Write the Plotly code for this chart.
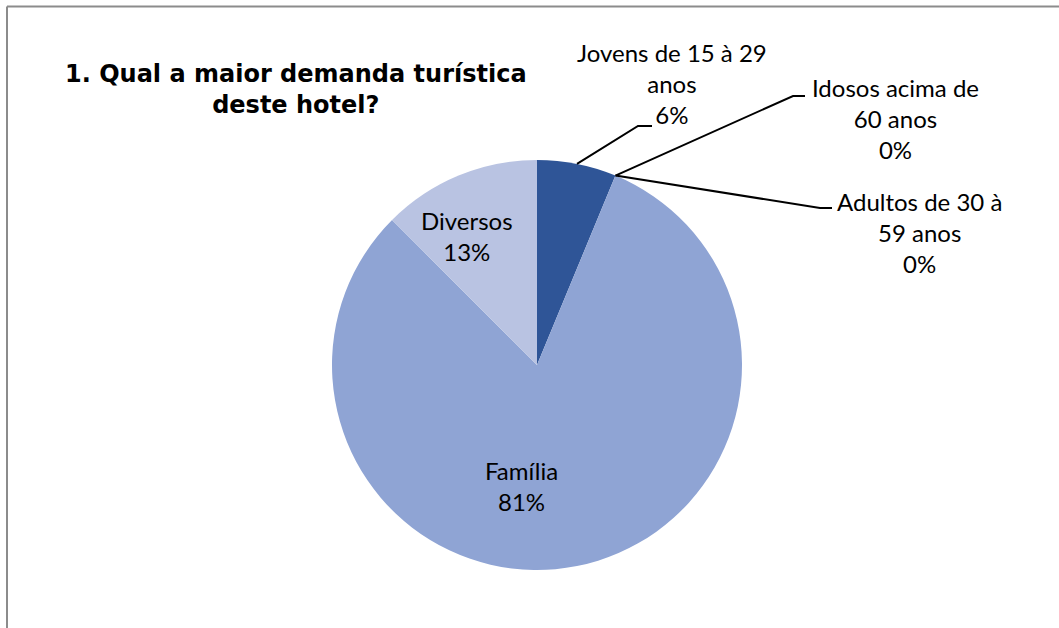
import math
import plotly.graph_objects as go

# ---- data ----
labels = ["Jovens de 15 à 29 anos", "Idosos acima de 60 anos", "Adultos de 30 à 59 anos", "Família", "Diversos"]
values = [1, 0, 0, 13, 2]
pct_text = ["6%", "0%", "0%", "81%", "13%"]
label_lines = ["Jovens de 15 à 29<br>anos", "Idosos acima de<br>60 anos", "Adultos de 30 à<br>59 anos", "Família", "Diversos"]
colors = ["#2F5597", "#4F6FB0", "#6E88C4", "#8FA4D4", "#B9C3E2"]
title_text = "<b>1. Qual a maior demanda turística<br>deste hotel?</b>"

W, H = 1059, 628
CX, CY, R = 537, 365, 205  # pie centre / radius in px

def px(x):
    return x / W

def py(y):
    return 1 - y / H

fig = go.Figure(go.Pie(
    labels=labels, values=values, sort=False, direction="clockwise", rotation=0,
    marker=dict(colors=colors, line=dict(width=0)),
    textinfo="none", hoverinfo="skip", showlegend=False,
    domain=dict(x=[px(CX - R), px(CX + R)], y=[py(CY + R), py(CY - R)]),
))

FONT = dict(family="Lato, Calibri, sans-serif", size=24, color="#000000")
annotations = []
shapes = []

# edge points of slices (from data)
total = sum(values)
cum = 0
mids = []
for v in values:
    a0 = cum / total * 2 * math.pi
    cum += v
    a1 = cum / total * 2 * math.pi
    mids.append((a0 + a1) / 2)

def edge(a):
    return CX + R * math.sin(a), CY - R * math.cos(a)

# outside labels with leader lines: (index, elbow px, end px, label centre px)
outside = [
    (0, (638, 126), (652, 126), (672, 84)),
    (1, (793, 96), (805, 96), (895, 118)),
    (2, (820, 208), (832, 208), (919, 233)),
]
for i, elbow, end, lc in outside:
    sx, sy = edge(mids[i])
    path = f"M {px(sx)},{py(sy)} L {px(elbow[0])},{py(elbow[1])} L {px(end[0])},{py(end[1])}"
    shapes.append(dict(type="path", xref="paper", yref="paper", path=path,
                       line=dict(color="#000000", width=2)))
    annotations.append(dict(x=px(lc[0]), y=py(lc[1]), xref="paper", yref="paper",
                            text=label_lines[i] + "<br>" + pct_text[i], showarrow=False,
                            font=FONT, align="center", xanchor="center", yanchor="middle"))

# inside labels
inside = [(3, (521, 486)), (4, (467, 236))]
for i, lc in inside:
    annotations.append(dict(x=px(lc[0]), y=py(lc[1]), xref="paper", yref="paper",
                            text=label_lines[i] + "<br>" + pct_text[i], showarrow=False,
                            font=FONT, align="center", xanchor="center", yanchor="middle"))

# title
annotations.append(dict(x=px(296), y=py(90), xref="paper", yref="paper", text=title_text,
                        showarrow=False, align="center", xanchor="center", yanchor="middle",
                        font=dict(family="DejaVu Sans, Arial, sans-serif", size=24, color="#000000")))

# frame (top and left border)
shapes.append(dict(type="line", xref="paper", yref="paper", x0=px(7), x1=1, y0=py(6.5), y1=py(6.5),
                   line=dict(color="#8C8C8C", width=2)))
shapes.append(dict(type="line", xref="paper", yref="paper", x0=px(7), x1=px(7), y0=py(6.5), y1=0,
                   line=dict(color="#8C8C8C", width=2)))

fig.update_layout(
    width=W, height=H, margin=dict(l=0, r=0, t=0, b=0),
    paper_bgcolor="#FFFFFF", plot_bgcolor="#FFFFFF",
    annotations=annotations, shapes=shapes,
)
fig.write_html("out.html", config={"displayModeBar": False},
               post_script="document.body.style.margin='0';document.body.style.overflow='hidden';")
